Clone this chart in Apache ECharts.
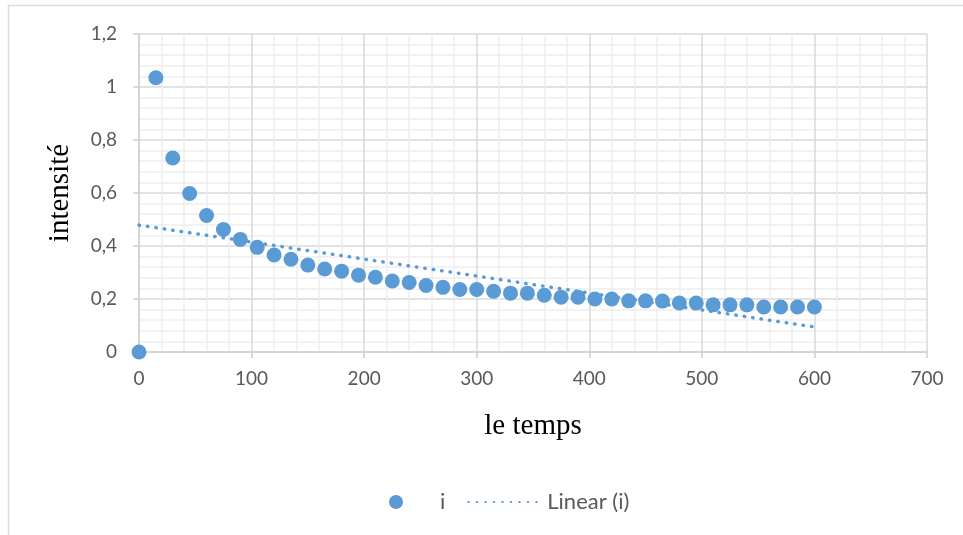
<!DOCTYPE html>
<html>
<head>
<meta charset="utf-8">
<title>intensité</title>
<script src="https://cdn.jsdelivr.net/npm/echarts@6/dist/echarts.min.js"></script>
<style>
  html, body { margin: 0; padding: 0; background: #ffffff; }
  #chart { width: 963px; height: 535px; }
</style>
</head>
<body>
<div id="chart"></div>
<script>
// temps (s) et intensité
var temps = [0, 15, 30, 45, 60, 75, 90, 105, 120, 135, 150, 165, 180, 195, 210,
  225, 240, 255, 270, 285, 300, 315, 330, 345, 360, 375, 390, 405, 420, 435,
  450, 465, 480, 495, 510, 525, 540, 555, 570, 585, 600];
var intensite = [0, 1.035, 0.732, 0.598, 0.515, 0.462, 0.425, 0.395, 0.366, 0.35,
  0.328, 0.313, 0.305, 0.29, 0.282, 0.268, 0.262, 0.251, 0.244, 0.236, 0.236,
  0.229, 0.222, 0.222, 0.214, 0.207, 0.207, 0.2, 0.2, 0.193, 0.193, 0.192,
  0.185, 0.185, 0.178, 0.178, 0.178, 0.17, 0.17, 0.17, 0.17];
var seriesNames = ["i", "Linear (i)"];
var xTicks = [0, 100, 200, 300, 400, 500, 600, 700];
var yTicks = [0, 0.2, 0.4, 0.6, 0.8, 1, 1.2];

// droite de tendance (moindres carrés), comme la "Linear" d'Excel
function linearFit(xs, ys) {
  var n = xs.length, sx = 0, sy = 0, sxx = 0, sxy = 0;
  for (var k = 0; k < n; k++) {
    sx += xs[k]; sy += ys[k]; sxx += xs[k] * xs[k]; sxy += xs[k] * ys[k];
  }
  var a = (n * sxy - sx * sy) / (n * sxx - sx * sx);
  var b = (sy - a * sx) / n;
  return [[xs[0], a * xs[0] + b], [xs[n - 1], a * xs[n - 1] + b]];
}

var points = temps.map(function (t, k) { return [t, intensite[k]]; });
var trend = linearFit(temps, intensite);

var blue = "#5B9BD5";
var labelFont = "Lato, 'Open Sans', sans-serif";
var titleFont = "'Liberation Serif', 'Times New Roman', serif";

var myChart = echarts.init(document.getElementById("chart"));
var option = {
  backgroundColor: "#ffffff",
  animation: false,
  graphic: [
    {
      type: "rect",
      shape: { x: 8.5, y: 5.5, width: 1200, height: 1200 },
      style: { fill: "none", stroke: "#dcdcdc", lineWidth: 1.5 },
      silent: true,
    },
  ],
  grid: {
    left: 139,
    right: 36,
    top: 34,
    bottom: 183,
    containLabel: false,
  },
  legend: {
    left: 384,
    top: 486,
    itemWidth: 70,
    itemHeight: 14,
    itemGap: 22,
    textStyle: {
      color: "#595959",
      fontSize: 22,
      fontFamily: labelFont,
      padding: [0, 0, 0, 4],
    },
    data: [
      seriesNames[0],
      { name: seriesNames[1], itemStyle: { opacity: 0 } },
    ],
  },
  xAxis: {
    type: "value",
    min: xTicks[0],
    max: xTicks[xTicks.length - 1],
    interval: 100,
    name: "le temps",
    nameLocation: "middle",
    nameGap: 60,
    nameTextStyle: {
      color: "#000000",
      fontSize: 29,
      fontFamily: titleFont,
    },
    axisLine: { show: true, lineStyle: { color: "#d0d0d0", width: 1.5 } },
    axisTick: { show: true, length: 6, lineStyle: { color: "#d0d0d0", width: 1.5 } },
    axisLabel: {
      color: "#595959",
      fontSize: 19,
      fontFamily: labelFont,
      margin: 17,
    },
    splitLine: { show: true, lineStyle: { color: "#d9d9d9", width: 1.5 } },
    minorTick: { show: false, splitNumber: 5 },
    minorSplitLine: { show: true, lineStyle: { color: "#eeeeee", width: 1.5 } },
  },
  yAxis: {
    type: "value",
    min: yTicks[0],
    max: yTicks[yTicks.length - 1],
    interval: 0.2,
    name: "intensité",
    nameLocation: "middle",
    nameGap: 64,
    nameTextStyle: {
      color: "#000000",
      fontSize: 29,
      fontFamily: titleFont,
    },
    axisLine: { show: true, lineStyle: { color: "#d0d0d0", width: 1.5 } },
    axisTick: { show: true, length: 6, lineStyle: { color: "#d0d0d0", width: 1.5 } },
    axisLabel: {
      color: "#595959",
      fontSize: 19,
      fontFamily: labelFont,
      margin: 22,
      formatter: function (v) {
        return String(Math.round(v * 10) / 10).replace(".", ",");
      },
    },
    splitLine: { show: true, lineStyle: { color: "#d9d9d9", width: 1.5 } },
    minorTick: { show: false, splitNumber: 5 },
    minorSplitLine: { show: true, lineStyle: { color: "#eeeeee", width: 1.5 } },
  },
  series: [
    {
      name: seriesNames[0],
      type: "scatter",
      symbol: "circle",
      symbolSize: 15,
      itemStyle: { color: blue, opacity: 1 },
      data: points,
      z: 3,
    },
    {
      name: seriesNames[1],
      type: "line",
      symbol: "none",
      showSymbol: false,
      lineStyle: {
        color: blue,
        width: 3.5,
        type: [0.5, 8],
        cap: "round",
      },
      itemStyle: { color: blue },
      data: trend,
      z: 2,
    },
  ],
};
myChart.setOption(option);
</script>
</body>
</html>
